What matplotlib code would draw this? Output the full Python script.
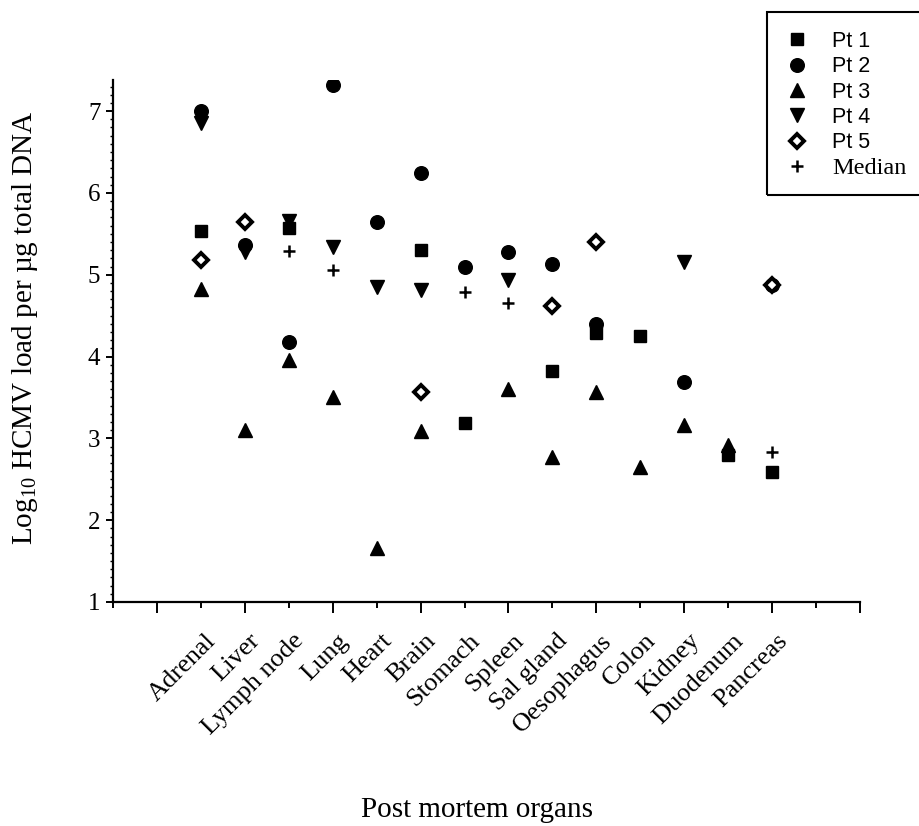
import numpy as np
import matplotlib.pyplot as plt
from matplotlib.patches import Rectangle
from matplotlib.transforms import ScaledTranslation

plt.rcParams['font.family'] = ['Liberation Serif', 'DejaVu Serif']
plt.rcParams['mathtext.fontset'] = 'custom'
plt.rcParams['mathtext.rm'] = 'Liberation Serif'
plt.rcParams['mathtext.default'] = 'regular'

# data (log10 copies per ug DNA), nan = no point shown
organs = ["Adrenal", "Liver", "Lymph node", "Lung", "Heart", "Brain", "Stomach",
          "Spleen", "Sal gland", "Oesophagus", "Colon", "Kidney", "Duodenum", "Pancreas"]
nan = np.nan
pt1 = [5.53, nan, 5.57, nan, nan, 5.30, 3.19, nan, 3.82, 4.29, 4.25, nan, 2.80, 2.59]
pt2 = [7.00, 5.36, 4.18, 7.32, 5.64, 6.24, 5.09, 5.28, 5.13, 4.40, nan, 3.69, nan, 4.87]
pt3 = [4.82, 3.10, 3.96, 3.51, 1.66, 3.09, nan, 3.60, 2.77, 3.57, 2.65, 3.16, 2.92, nan]
pt4 = [6.85, 5.28, 5.66, 5.34, 4.85, 4.81, nan, 4.94, nan, nan, nan, 5.15, nan, nan]
pt5 = [5.18, 5.64, nan, nan, nan, 3.57, nan, nan, 4.62, 5.40, nan, nan, nan, 4.87]
median = [nan, nan, 5.29, 5.06, nan, nan, 4.79, 4.65, nan, nan, nan, nan, nan, 2.83]

W, H = 920, 826
fig = plt.figure(figsize=(W / 100, H / 100), dpi=100)
ax = fig.add_axes([113 / W, 1 - 602 / H, (860 - 113) / W, (602 - 80) / H])

x = np.arange(2, 2 + len(organs))

h1, = ax.plot(x, pt1, ls='none', marker='s', ms=9.3, color='black', label='Pt 1')
h2, = ax.plot(x, pt2, ls='none', marker='o', ms=9.8, color='black', label='Pt 2')
h3, = ax.plot(x, pt3, ls='none', marker='^', ms=10.5, color='black', label='Pt 3')
h4, = ax.plot(x, pt4, ls='none', marker='v', ms=10.5, color='black', label='Pt 4')
h5, = ax.plot(x, pt5, ls='none', marker='D', ms=7, mfc='white', mec='black',
              mew=2.8, label='Pt 5')
h6, = ax.plot(x, median, ls='none', marker='+', ms=9, mew=1.8, color='black',
              label='Median')

ax.set_xlim(0, 17)
ax.set_ylim(1, 7.38)
for s in ['top', 'right']:
    ax.spines[s].set_visible(False)
for s in ['left', 'bottom']:
    ax.spines[s].set_linewidth(1.6)

# y axis
ax.set_yticks(np.arange(1, 8))
ax.set_yticks(np.arange(1, 7.35, 0.1), minor=True)
ax.tick_params(axis='y', which='major', direction='out', length=5, width=1.4,
               labelsize=18, pad=4)
ax.tick_params(axis='y', which='minor', direction='out', length=2.5, width=1.0)

# x axis
ax.set_xticks(x)
ax.set_xticklabels(organs, rotation=45, ha='right', va='top', rotation_mode='anchor')
ax.set_xticks([0, 1, 16, 17], minor=True)
ax.tick_params(axis='x', which='both', direction='out', length=4, width=1.4,
               labelsize=19, pad=16)
for t, pos in zip(ax.xaxis.get_major_ticks(), x):
    if pos % 2 == 1:
        t.tick1line.set_markersize(8)
for t, pos in zip(ax.xaxis.get_minor_ticks(), [0, 1, 16, 17]):
    if pos % 2 == 1:
        t.tick1line.set_markersize(8)
off = ScaledTranslation(4 / 100, 0, fig.dpi_scale_trans)
for lab in ax.get_xticklabels():
    lab.set_transform(lab.get_transform() + off)

ax.set_xlabel('Post mortem organs', fontsize=21)
ax.xaxis.label.set_va('center')
ax.xaxis.set_label_coords((477 - 113) / 747, -(810 - 602) / 522)

ax.set_ylabel('Log$_{10}$ HCMV load per \u00b5g total DNA', fontsize=21)
ax.yaxis.label.set_va('center')
ax.yaxis.set_label_coords(-(113 - 25) / 747, (602 - 328) / 522)

# legend, top right, box runs off the right edge
leg = fig.legend([h1, h2, h3, h4, h5, h6], ['Pt 1', 'Pt 2', 'Pt 3', 'Pt 4', 'Pt 5', 'Median'],
                 loc='upper left', bbox_to_anchor=(786 / W, 1 - 31 / H),
                 frameon=False, prop={'family': 'Liberation Sans', 'size': 15.5},
                 handlelength=1.0, handletextpad=1.15, labelspacing=0.2,
                 borderpad=0, borderaxespad=0)
leg.get_texts()[-1].set_fontfamily('Liberation Serif')
leg.get_texts()[-1].set_fontsize(17.5)
fig.add_artist(Rectangle((767 / W, 1 - 195 / H), 0.3, (195 - 12) / H,
                         transform=fig.transFigure, fill=False, lw=1.5, ec='black'))

fig.savefig('out.png', dpi=100)
